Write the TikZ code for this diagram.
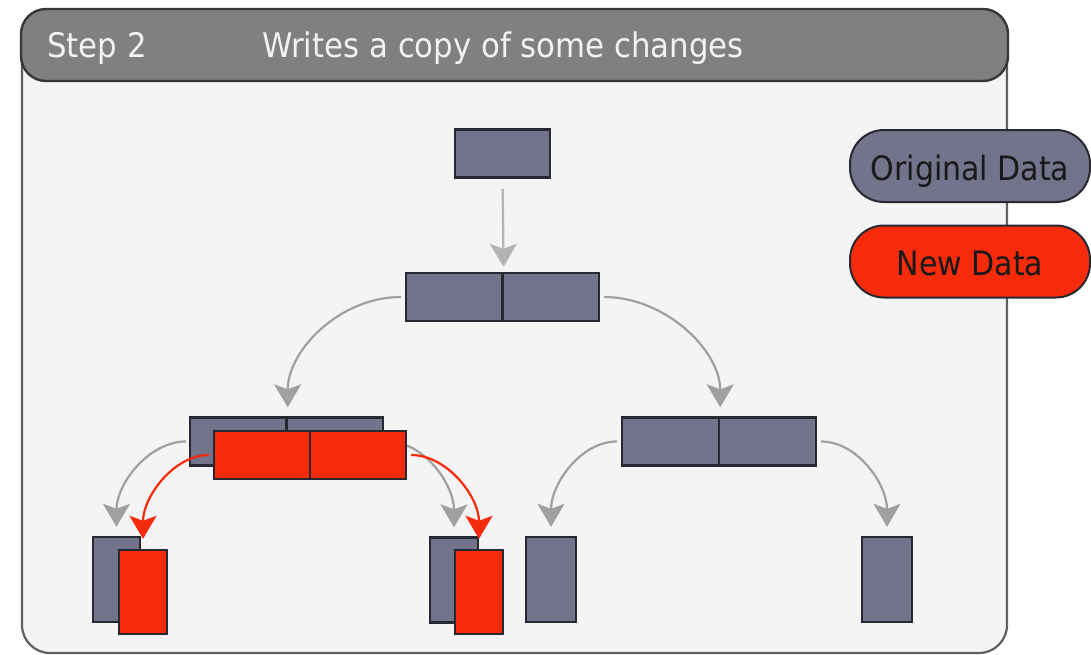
\documentclass[tikz,border=0pt]{standalone}
\usepackage{fontspec}
\setmainfont{DejaVu Sans}
\usetikzlibrary{arrows.meta}

\definecolor{slate}{RGB}{115,115,140}
\definecolor{newred}{RGB}{245,43,12}
\definecolor{edge}{RGB}{40,40,50}
\definecolor{arrowgray}{RGB}{160,160,160}
\definecolor{headgray}{RGB}{128,128,128}
\definecolor{headline}{RGB}{55,55,55}
\definecolor{bodybg}{RGB}{244,244,244}
\definecolor{framegray}{RGB}{95,95,95}
\definecolor{headtext}{RGB}{242,242,242}

\begin{document}
\begin{tikzpicture}[x=1pt,y=-1pt,
  box/.style={draw=edge, line width=2.4pt, inner sep=0pt, minimum height=48pt},
  old/.style={box, fill=slate},
  new/.style={box, fill=newred},
  leaf/.style={minimum width=48pt, minimum height=85pt},
  link/.style={draw=arrowgray, line width=2.2pt,
    -{Stealth[length=23pt,width=27pt,inset=5pt]}},
  newlink/.style={link, draw=newred},
  pill/.style={draw=edge, line width=2pt, rounded corners=34pt,
    minimum width=240pt, minimum height=72pt, inner sep=0pt,
    text height=28pt, text depth=0pt, text=black!90,
    font=\fontsize{30}{36}\selectfont},
  headlabel/.style={anchor=base west, text=headtext, inner sep=0pt,
    font=\fontsize{30.8}{36}\selectfont}]

\useasboundingbox (0,0) rectangle (1091,654);

% panel body and title bar
\draw[fill=bodybg, draw=framegray, line width=2.2pt, rounded corners=28pt]
  (22,60) -- (22,653) -- (1007,653) -- (1007,60);
\draw[fill=headgray, draw=headline, line width=2.4pt, rounded corners=25pt]
  (21,9) rectangle (1008,81);
\node[headlabel] (step) at (47,57) {\scalebox{1}[1.1]{Step 2}};
\node[headlabel] (title) at (262,57) {\scalebox{1}[1.1]{Writes a copy of some changes}};

% original tree
\node[old, minimum width=95pt] (t) at (502.5,153.5) {};
\node[old, minimum width=96.5pt] (mL) at (454.25,297) {};
\node[old, minimum width=96.5pt] (mR) at (550.75,297) {};
\node[old, minimum width=96.5pt] (lgL) at (238.25,441.5) {};
\node[old, minimum width=96.5pt] (lgR) at (334.75,441.5) {};
\node[old, minimum width=97pt] (rgL) at (670.5,441.5) {};
\node[old, minimum width=97pt] (rgR) at (767.5,441.5) {};
\node[old, leaf, minimum width=47pt] (g1) at (116.5,579.5) {};
\node[old, leaf] (g2) at (454,580) {};
\node[old, leaf, minimum width=50pt] (g3) at (551,579.5) {};
\node[old, leaf, minimum width=50pt] (g4) at (887,579.5) {};

\draw[link, draw=arrowgray!80, shorten <=10pt, shorten >=5pt] (t.south) -- (mL.north east);
\draw[link, shorten <=4pt, shorten >=9pt]
  (mL.west) .. controls +(-65,0) and +(0,-66) .. (lgL.north east);
\draw[link, shorten <=4pt, shorten >=9pt]
  (mR.east) .. controls +(65,0) and +(0,-66) .. (rgL.north east);
\draw[link, shorten <=3pt, shorten >=9pt]
  (lgL.west) .. controls +(-40,0) and +(0,-52) .. (g1.north);
\draw[link, shorten <=3pt, shorten >=9pt]
  (lgR.east) .. controls +(40,0) and +(0,-52) .. (g2.north);
\draw[link, shorten <=4pt, shorten >=9pt]
  (rgL.west) .. controls +(-40,0) and +(0,-52) .. (g3.north);
\draw[link, shorten <=4pt, shorten >=9pt]
  (rgR.east) .. controls +(40,0) and +(0,-52) .. (g4.north);

% copied nodes
\node[new, minimum width=96pt] (lrL) at (262,455) {};
\node[new, minimum width=96pt] (lrR) at (358,455) {};
\node[new, leaf, minimum height=84pt] (r1) at (143,592) {};
\node[new, leaf, minimum height=84pt] (r2) at (479,592) {};

\draw[newlink, shorten <=4pt, shorten >=10pt]
  (lrL.west) .. controls +(-39,0) and +(0,-52) .. (r1.north);
\draw[newlink, shorten <=4pt, shorten >=10pt]
  (lrR.east) .. controls +(40,0) and +(0,-52) .. (r2.north);

% legend
\node[pill, fill=slate] (orig) at (970,166) {\scalebox{1}[1.12]{Original Data}};
\node[pill, fill=newred] (newdata) at (970,261.5) {\scalebox{1}[1.12]{New Data}};

\end{tikzpicture}
\end{document}
